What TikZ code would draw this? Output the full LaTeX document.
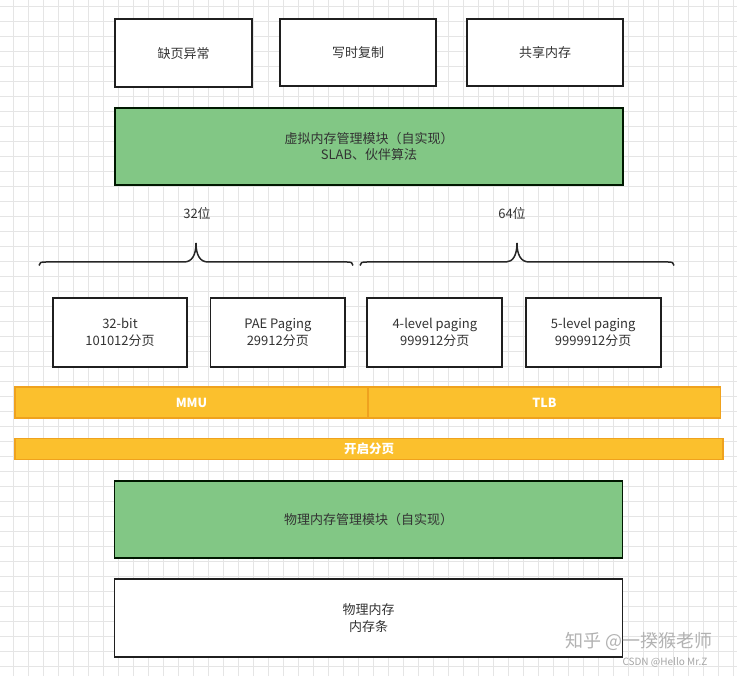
\documentclass[tikz,border=0pt]{standalone}
\usepackage{fontspec}
\setmainfont{Noto Sans CJK SC}
\begin{document}
\begin{tikzpicture}[x=1pt,y=-1pt,
  txt/.style={font=\fontsize{13}{16.5}\selectfont, text=black!80, align=center},
  wbox/.style={txt, draw=black!88, line width=1.7pt, fill=white, inner sep=0pt},
  gbox/.style={txt, draw=black!85!green!60!black, line width=1.7pt, fill=grn, inner sep=0pt},
  obar/.style={draw=orgb, line width=1.2pt, fill=orgf, inner sep=0pt, text=white, font=\fontsize{12.5}{14}\selectfont\bfseries},
  bracestyle/.style={draw=black!85, line width=1.5pt},
  gridline/.style={draw=black!10, line width=0.6pt}
]
\definecolor{grn}{HTML}{82C785}
\definecolor{orgf}{HTML}{FBC02D}
\definecolor{orgb}{HTML}{EFA21E}
\useasboundingbox (0,0) rectangle (737,676);
\fill[white] (0,0) rectangle (737,676);
% grid
\foreach \i in {0,...,48} {\draw[gridline] (13.3+15*\i,0) -- (13.3+15*\i,676);}
\foreach \j in {0,...,45} {\draw[gridline] (0,6.7+15*\j) -- (737,6.7+15*\j);}

% top boxes
\node[wbox, minimum width=137pt, minimum height=68pt] (qy) at (183.5,53.3) {缺页异常};
\node[wbox, minimum width=156pt, minimum height=67pt] (xs) at (358,52.5) {写时复制};
\node[wbox, minimum width=156pt, minimum height=67pt] (gx) at (545,52.5) {共享内存};

\node[gbox, minimum width=508pt, minimum height=77pt] (vm) at (369,146.5) {虚拟内存管理模块（自实现）\\SLAB、伙伴算法};

% labels
\node[txt] (l32) at (197,214) {32位};
\node[txt] (l64) at (512,214) {64位};

% braces
\draw[bracestyle] (39,265.5) .. controls (39,262.5) and (41,262) .. (46,262) -- (184,262)
  .. controls (192,262) and (196,255) .. (196,243)
  .. controls (196,255) and (200,262) .. (208,262) -- (347,262)
  .. controls (351,262) and (353,262.5) .. (353,265.5);
\draw[bracestyle] (360,265.5) .. controls (360,262.5) and (362,262) .. (367,262) -- (506,262)
  .. controls (513,262) and (517,255) .. (517,243)
  .. controls (517,255) and (521,262) .. (529,262) -- (668,262)
  .. controls (672,262) and (674,262.5) .. (674,265.5);

% paging boxes
\node[wbox, minimum width=134.6pt, minimum height=68.4pt] (b32) at (120,332.5) {32-bit\\101012分页};
\node[wbox, minimum width=134.4pt, minimum height=68.4pt] (pae) at (277.8,332.5) {PAE Paging\\29912分页};
\node[wbox, minimum width=135pt, minimum height=68.4pt] (l4) at (434.8,332.5) {4-level paging\\999912分页};
\node[wbox, minimum width=135pt, minimum height=68.4pt] (l5) at (593.2,332.5) {5-level paging\\9999912分页};

% orange bars
\node[obar, minimum width=353pt, minimum height=31pt] (mmu) at (191.5,402.5) {MMU};
\node[obar, minimum width=352.5pt, minimum height=31pt] (tlb) at (544.5,402.5) {TLB};
\node[obar, minimum width=708pt, minimum height=21pt] (kq) at (369,448.8) {开启分页};

% bottom boxes
\node[gbox, minimum width=508pt, minimum height=77.6pt] (pm) at (368.5,519.5) {物理内存管理模块（自实现）};
\node[wbox, minimum width=508pt, minimum height=77.4pt] (mem) at (368.5,618) {物理内存\\内存条};

% watermarks
\node[font=\fontsize{18}{20}\selectfont, text=black!30, anchor=west] (wm1) at (562,641) {知乎 @一揆猴老师};
\node[font=\fontsize{10}{12}\selectfont, text=black!35, anchor=west] (wm2) at (619,662) {CSDN @Hello Mr.Z};
\end{tikzpicture}
\end{document}
